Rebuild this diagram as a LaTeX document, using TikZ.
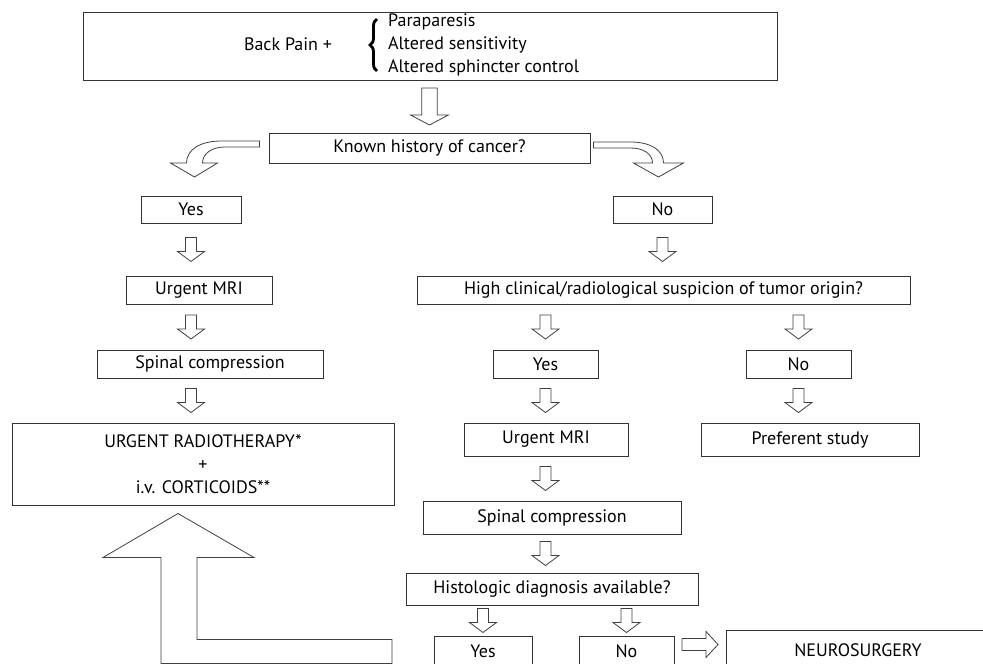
\documentclass[tikz,border=0pt]{standalone}
\usepackage{fontspec}
\setmainfont{PT Sans}
\usetikzlibrary{calc,decorations.pathreplacing}

\tikzset{
  box/.style={draw=black!80, line width=1pt, inner sep=0pt, minimum height=28pt},
  hollow/.style={draw=black!75, line width=0.8pt, fill=white, line join=miter},
  pics/hdown/.style={code={
    \draw[hollow] (-5.5,-#1) -- (5.5,-#1) -- (5.5,#1-10) -- (13.5,#1-10) -- (0,#1)
      -- (-13.5,#1-10) -- (-5.5,#1-10) -- cycle;}},
  pics/hright/.style={code={
    \draw[hollow] (-#1,-6) -- (#1-12,-6) -- (#1-12,-13) -- (#1,0) -- (#1-12,13)
      -- (#1-12,6) -- (-#1,6) -- cycle;}},
}

% hollow arrow between two boxes, x taken from a third node
\newcommand{\hdown}[4][12]{%
  \path ($(#2.south)!.5!(#3.north)$) coordinate (mid);
  \pic at (#4.center |- mid) {hdown=#1};}

\begin{document}
\begin{tikzpicture}[x=1pt, y=-1pt, font=\fontsize{18}{23}\selectfont]
	\useasboundingbox (0,0) rectangle (983,664);
	\clip (0,0) rectangle (983,664);

	% BACK PAIN
	\node[box, minimum width=694pt, minimum height=68pt] (top) at (430,46) {};
	\node (pain) at (288,44) {Back Pain +};
	\node[anchor=west, align=left, inner sep=0pt] (signs) at (388,45)
		{Paraparesis\\Altered sensitivity\\Altered sphincter control};
	\draw[decorate, decoration={brace, amplitude=7pt}, line width=2.8pt] (377,71) -- (377,19);

	% KNOWN HISTORY
	\node[box, minimum width=321pt, minimum height=30pt] (known) at (429.5,148) {Known history of cancer?};
	\path ($(top.south)!.5!(known.north)$) coordinate (mid);
	\pic[xscale=1.4] at (known.center |- mid) {hdown=18.5};

	\begin{scope}[shift={(known.west)}]
		\draw[hollow] (-9,-7) -- (-47,-7) .. controls (-69,-7) and (-82,2) .. (-82,15) -- (-98,15)
			-- (-74,29) -- (-51,15) -- (-66,15) .. controls (-66,6) and (-57,-1) .. (-44,-1) -- (-9,-1) -- cycle;
	\end{scope}
	\begin{scope}[shift={(known.east)}]
		\draw[hollow] (3,-6) -- (40,-6) .. controls (60,-6) and (73,2) .. (73,15) -- (93,15)
			-- (68,29) -- (43,15) -- (62,15) .. controls (62,6) and (53,0) .. (40,0) -- (3,0) -- cycle;
	\end{scope}

	% YES BRANCH
	\node[box, minimum width=100pt, minimum height=27pt] (yesA) at (191,209.5) {Yes};
	\node[box, minimum width=146pt] (mriA) at (199,290) {Urgent MRI};
	\node[box, minimum width=226pt] (spinA) at (210,364) {Spinal compression};
	\node[box, minimum width=382pt, minimum height=82pt, align=center] (rt) at (203,464)
		{URGENT RADIOTHERAPY*\\+\\i.v. CORTICOIDS**};
	\hdown{yesA}{mriA}{yesA}
	\hdown{mriA}{spinA}{yesA}
	\hdown{spinA}{rt}{yesA}

	% NO BRANCH
	\node[box, minimum width=99pt, minimum height=27pt] (noA) at (662.5,209.5) {No};
	\node[box, minimum width=493pt] (high) at (663.5,290) {High clinical/radiological suspicion of tumor origin?};
	\node[box, minimum width=105pt] (yesB) at (545.5,364) {Yes};
	\node[box, minimum width=105pt] (noB) at (798.5,364) {No};
	\node[box, minimum width=164pt, minimum height=33pt] (mriB) at (546,439.5) {Urgent MRI};
	\node[box, minimum width=218pt, minimum height=33pt] (pref) at (810,439.5) {Preferent study};
	\node[box, minimum width=258pt, minimum height=33pt] (spinB) at (552,517.5) {Spinal compression};
	\node[box, minimum width=292pt, minimum height=32pt] (hist) at (552,589) {Histologic diagnosis available?};
	\node[box, minimum width=98pt, minimum height=30pt] (yesC) at (483,651) {Yes};
	\node[box, minimum width=95pt, minimum height=30pt] (noC) at (626.5,651) {No};
	\node[box, minimum width=264pt, minimum height=40pt] (neuro) at (858,650) {NEUROSURGERY};
	\hdown{noA}{high}{noA}
	\hdown{high}{yesB}{yesB}
	\hdown{high}{noB}{noB}
	\hdown{yesB}{mriB}{yesB}
	\hdown{noB}{pref}{noB}
	\hdown{mriB}{spinB}{yesB}
	\hdown{spinB}{hist}{yesB}
	\hdown{hist}{yesC}{yesC}
	\hdown{hist}{noC}{noC}
	\pic at ($(noC.east)!.5!(neuro.west)+(0,-6)$) {hright=18};

	% YES -> RADIOTHERAPY
	\begin{scope}[shift={(rt.south)}]
		\draw[hollow] (-25,8) -- (51,52) -- (-6,52) -- (-6,134) -- (189,134) -- (189,158)
			-- (-42,158) -- (-42,52) -- (-100,52) -- cycle;
	\end{scope}
\end{tikzpicture}
\end{document}
